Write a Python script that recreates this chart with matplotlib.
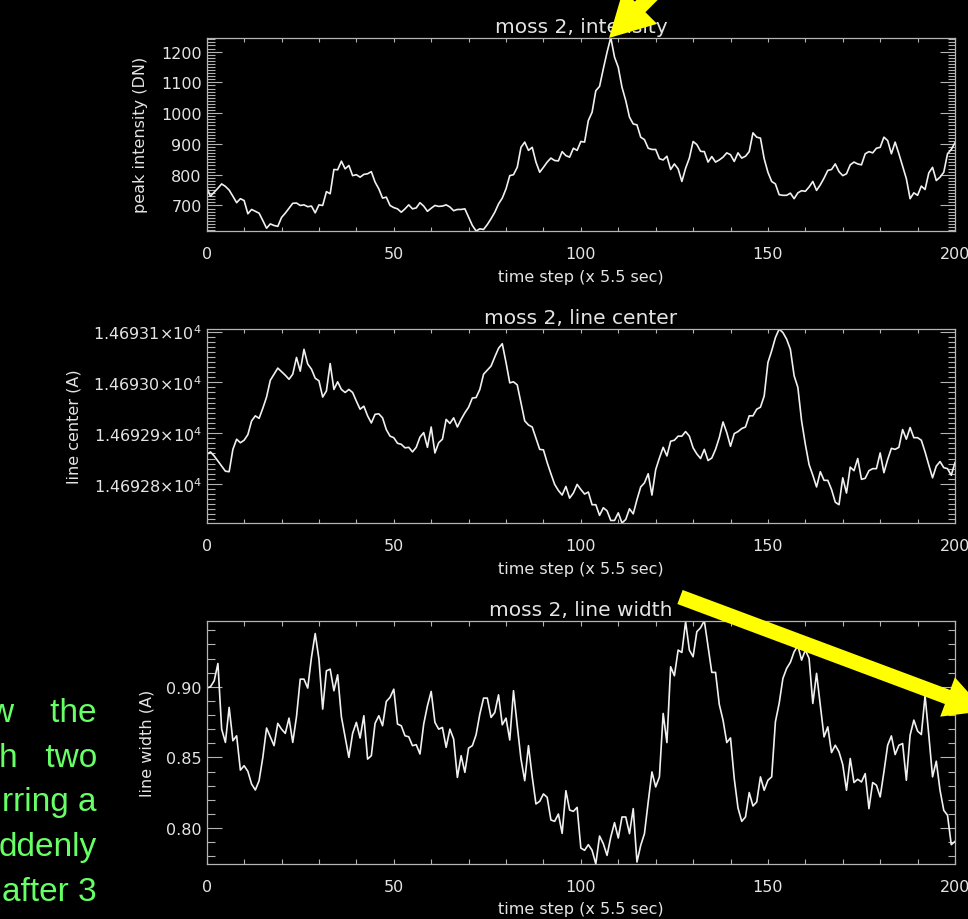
import numpy as np
import matplotlib
matplotlib.use('Agg')
import matplotlib.pyplot as plt
from matplotlib.ticker import MultipleLocator, FuncFormatter, FormatStrFormatter
from matplotlib.patches import FancyArrow

# --------------------------------------------------------------------------- #
# Moss 2 time series (one sample per 5.5 s time step)
# --------------------------------------------------------------------------- #
peak_intensity = [
  759, 730, 743, 756, 770, 762, 750, 730, 709, 722,
  716, 673, 687, 681, 675, 651, 626, 640, 635, 632,
  661, 675, 691, 707, 708, 700, 702, 696, 698, 676,
  702, 700, 745, 738, 817, 816, 844, 819, 830, 797,
  800, 792, 801, 803, 810, 776, 754, 724, 727, 700,
  693, 689, 678, 689, 702, 689, 692, 709, 698, 681,
  691, 700, 697, 698, 702, 695, 683, 687, 687, 689,
  662, 635, 617, 624, 622, 638, 657, 678, 705, 724,
  754, 797, 800, 824, 889, 906, 879, 889, 841, 808,
  824, 841, 854, 846, 845, 875, 862, 857, 886, 879,
  908, 906, 976, 1003, 1073, 1087, 1144, 1198, 1246, 1182,
  1149, 1084, 1041, 987, 965, 962, 922, 914, 886, 882,
  882, 852, 848, 860, 817, 835, 819, 778, 821, 854,
  908, 898, 876, 875, 841, 859, 841, 848, 857, 871,
  865, 843, 871, 854, 860, 875, 936, 922, 919, 852,
  808, 778, 770, 735, 733, 733, 740, 722, 741, 748,
  746, 760, 778, 749, 767, 789, 814, 817, 835, 810,
  797, 803, 832, 841, 835, 832, 868, 875, 871, 886,
  889, 922, 911, 868, 906, 868, 828, 787, 722, 741,
  733, 763, 752, 806, 824, 781, 792, 808, 868, 882,
  904]

line_center = [
  14692.858, 14692.863, 14692.855, 14692.845, 14692.835, 14692.825, 14692.824, 14692.868, 14692.888, 14692.881,
  14692.886, 14692.897, 14692.924, 14692.934, 14692.929, 14692.949, 14692.971, 14693.004, 14693.016, 14693.028,
  14693.021, 14693.014, 14693.006, 14693.016, 14693.049, 14693.022, 14693.065, 14693.036, 14693.026, 14693.008,
  14693.003, 14692.971, 14692.983, 14693.037, 14692.986, 14693.001, 14692.986, 14692.980, 14692.986, 14692.980,
  14692.963, 14692.947, 14692.953, 14692.934, 14692.920, 14692.937, 14692.938, 14692.930, 14692.907, 14692.894,
  14692.891, 14692.880, 14692.878, 14692.871, 14692.872, 14692.863, 14692.872, 14692.892, 14692.901, 14692.872,
  14692.912, 14692.861, 14692.881, 14692.888, 14692.927, 14692.919, 14692.930, 14692.912, 14692.927, 14692.940,
  14692.951, 14692.969, 14692.970, 14692.986, 14693.016, 14693.024, 14693.032, 14693.050, 14693.067, 14693.076,
  14693.039, 14692.999, 14693.001, 14692.995, 14692.960, 14692.924, 14692.916, 14692.912, 14692.890, 14692.868,
  14692.867, 14692.842, 14692.820, 14692.799, 14692.787, 14692.778, 14692.795, 14692.772, 14692.782, 14692.799,
  14692.789, 14692.780, 14692.784, 14692.759, 14692.759, 14692.738, 14692.753, 14692.747, 14692.728, 14692.728,
  14692.743, 14692.723, 14692.730, 14692.751, 14692.741, 14692.769, 14692.794, 14692.802, 14692.820, 14692.778,
  14692.828, 14692.851, 14692.872, 14692.855, 14692.884, 14692.886, 14692.894, 14692.894, 14692.903, 14692.894,
  14692.871, 14692.859, 14692.850, 14692.868, 14692.846, 14692.851, 14692.868, 14692.891, 14692.922, 14692.901,
  14692.874, 14692.899, 14692.903, 14692.909, 14692.912, 14692.934, 14692.934, 14692.947, 14692.951, 14692.973,
  14693.039, 14693.062, 14693.088, 14693.105, 14693.098, 14693.085, 14693.065, 14693.013, 14692.990, 14692.924,
  14692.878, 14692.838, 14692.817, 14692.794, 14692.824, 14692.807, 14692.807, 14692.789, 14692.764, 14692.759,
  14692.812, 14692.782, 14692.833, 14692.826, 14692.850, 14692.809, 14692.811, 14692.826, 14692.830, 14692.830,
  14692.861, 14692.822, 14692.848, 14692.870, 14692.868, 14692.872, 14692.907, 14692.888, 14692.911, 14692.891,
  14692.891, 14692.886, 14692.863, 14692.837, 14692.812, 14692.835, 14692.844, 14692.832, 14692.830, 14692.817,
  14692.842]

line_width = [
  0.8991, 0.9000, 0.9042, 0.9165, 0.8700, 0.8606, 0.8854, 0.8618, 0.8653, 0.8410,
  0.8441, 0.8401, 0.8311, 0.8269, 0.8335, 0.8500, 0.8708, 0.8646, 0.8583, 0.8741,
  0.8700, 0.8670, 0.8778, 0.8606, 0.8788, 0.9054, 0.9054, 0.8991, 0.9208, 0.9377,
  0.9196, 0.8842, 0.9113, 0.9125, 0.8972, 0.9085, 0.8788, 0.8646, 0.8500, 0.8670,
  0.8748, 0.8637, 0.8795, 0.8488, 0.8512, 0.8741, 0.8795, 0.8724, 0.8896, 0.8925,
  0.8983, 0.8736, 0.8724, 0.8653, 0.8646, 0.8583, 0.8590, 0.8524, 0.8736, 0.8866,
  0.8967, 0.8748, 0.8700, 0.8712, 0.8571, 0.8700, 0.8630, 0.8358, 0.8512, 0.8394,
  0.8566, 0.8583, 0.8660, 0.8807, 0.8920, 0.8920, 0.8783, 0.8818, 0.8943, 0.8731,
  0.8778, 0.8623, 0.8972, 0.8724, 0.8488, 0.8335, 0.8583, 0.8363, 0.8170, 0.8189,
  0.8241, 0.8217, 0.8057, 0.8047, 0.8099, 0.7962, 0.8264, 0.8127, 0.8118, 0.8146,
  0.7858, 0.7842, 0.7882, 0.7842, 0.7745, 0.7943, 0.7889, 0.7806, 0.7936, 0.8038,
  0.7929, 0.8078, 0.8078, 0.7960, 0.8137, 0.7759, 0.7877, 0.7960, 0.8184, 0.8397,
  0.8291, 0.8362, 0.8811, 0.8605, 0.9142, 0.9078, 0.9260, 0.9243, 0.9461, 0.9260,
  0.9213, 0.9390, 0.9418, 0.9468, 0.9284, 0.9102, 0.9102, 0.8875, 0.8764, 0.8605,
  0.8638, 0.8350, 0.8142, 0.8047, 0.8078, 0.8251, 0.8156, 0.8184, 0.8362, 0.8267,
  0.8338, 0.8362, 0.8752, 0.8882, 0.9059, 0.9130, 0.9173, 0.9248, 0.9291, 0.9189,
  0.9260, 0.9201, 0.8882, 0.9095, 0.8870, 0.8645, 0.8716, 0.8534, 0.8586, 0.8539,
  0.8449, 0.8267, 0.8492, 0.8322, 0.8345, 0.8326, 0.8385, 0.8137, 0.8322, 0.8303,
  0.8220, 0.8397, 0.8586, 0.8652, 0.8520, 0.8586, 0.8598, 0.8338, 0.8657, 0.8764,
  0.8686, 0.8662, 0.8936, 0.8657, 0.8362, 0.8473, 0.8267, 0.8125, 0.8090, 0.7882,
  0.7905]

panel_titles = ['moss 2, intensity', 'moss 2, line center', 'moss 2, line width']
y_labels = ['peak intensity (DN)', 'line center (A)', 'line width (A)']
x_label = 'time step (x 5.5 sec)'
note_lines = ['w    the', 'h   two', 'rring a', 'ddenly', 'after 3']

# --------------------------------------------------------------------------- #
# Style
# --------------------------------------------------------------------------- #
bg = 'black'
fg_text = '#e4e4e4'
fg_axis = '#b4b4b4'
fg_line = '#f0f0f0'
note_col = '#66ff66'
arrow_col = '#ffff00'

W, H = 968, 920

def centerFmt(v, pos):
  return '{0:.5f}$\\times$10$^4$'.format(v / 1e4)

# axes rectangles in pixels: left, top, right, bottom
boxes = [(206.7, 38.5, 955, 232), (206.7, 330, 955, 524), (206.7, 621.7, 955, 865)];
ylab_x = [-0.0784, -0.1667, -0.0704];
xlab_y = [-0.198, -0.196, -0.152];
ymajor = [100, 0.1, 0.05];
yminor = [10, 0.01, 0.01];
yfmt = [FormatStrFormatter('%d'), FuncFormatter(centerFmt), FormatStrFormatter('%.2f')];
xtick_len = [3.0, 3.0, 3.5];
series = [peak_intensity, line_center, line_width];

fig = plt.figure(figsize=(W / 100, H / 100), dpi=100, facecolor=bg);

for i, y in enumerate(series):
  l, t, r, b = boxes[i];
  ax = fig.add_axes([l / W, 1 - b / H, (r - l) / W, (b - t) / H]);
  ax.set_facecolor(bg);
  steps = np.arange(len(y));
  ax.plot(steps, y, color=fg_line, lw=1.2);
  ax.set_xlim(0, 200);
  ax.set_ylim(min(y), max(y));

  for s in ax.spines.values():
    s.set_color(fg_axis);
    s.set_linewidth(0.9);

  ax.xaxis.set_major_locator(MultipleLocator(50));
  ax.xaxis.set_minor_locator(MultipleLocator(10));
  ax.yaxis.set_major_locator(MultipleLocator(ymajor[i]));
  ax.yaxis.set_minor_locator(MultipleLocator(yminor[i]));
  ax.yaxis.set_major_formatter(yfmt[i]);

  ax.tick_params(which='both', direction='in', top=True, right=True,
                 color=fg_axis, width=0.8, labelcolor=fg_text, labelsize=11.5);
  ax.tick_params(axis='y', which='major', length=10.8, pad=3.5);
  ax.tick_params(axis='y', which='minor', length=5.4);
  ax.tick_params(axis='x', which='both', length=xtick_len[i], pad=11);

  ax.set_title(panel_titles[i], color=fg_text, fontsize=14.5, pad=4);
  ax.set_ylabel(y_labels[i], color=fg_text, fontsize=11.5);
  ax.yaxis.set_label_coords(ylab_x[i], 0.5);
  ax.set_xlabel(x_label, color=fg_text, fontsize=11.5, va='top');
  ax.xaxis.set_label_coords(0.5, xlab_y[i]);

# Overlay in pixel units for the arrows and the side note
over = fig.add_axes([0, 0, 1, 1], zorder=10);
over.set_xlim(0, W);
over.set_ylim(H, 0);
over.axis('off');
over.patch.set_visible(False);

over.add_patch(FancyArrow(700, -52, -91, 91, width=15, head_width=48, head_length=44,
                          length_includes_head=True, color=arrow_col, lw=0));
over.add_patch(FancyArrow(680, 598, 305, 114, width=15, head_width=42, head_length=40,
                          length_includes_head=True, color=arrow_col, lw=0));

for k, line in enumerate(note_lines):
  over.text(97, 722 + 44.7 * k, line, ha='right', va='baseline', color=note_col,
            fontsize=24, family=['Liberation Sans', 'DejaVu Sans']);

fig.savefig('out.png', dpi=100, facecolor=bg);
